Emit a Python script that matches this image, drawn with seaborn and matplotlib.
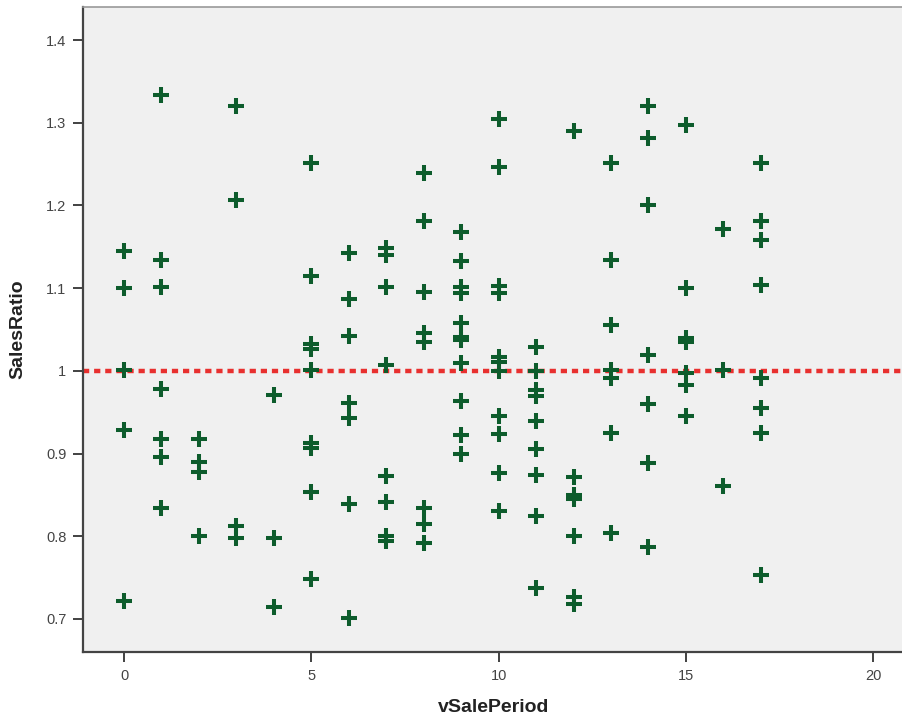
import numpy as np
import pandas as pd
import matplotlib
matplotlib.use("Agg")
import matplotlib.pyplot as plt
import seaborn as sns

# sales ratio values, one list per sale period
ratios_by_period = {
    0: [1.145, 1.100, 1.001, 0.929, 0.722],
    1: [1.334, 1.134, 1.101, 0.978, 0.917, 0.896, 0.834],
    2: [0.917, 0.890, 0.878, 0.800],
    3: [1.320, 1.207, 0.812, 0.798],
    4: [0.971, 0.798, 0.714],
    5: [1.251, 1.115, 1.033, 1.027, 1.001, 0.913, 0.907, 0.853, 0.748],
    6: [1.143, 1.087, 1.042, 0.961, 0.943, 0.839, 0.701],
    7: [1.148, 1.140, 1.101, 1.007, 0.873, 0.841, 0.800, 0.794],
    8: [1.239, 1.181, 1.095, 1.046, 1.035, 0.834, 0.815, 0.792],
    9: [1.168, 1.133, 1.102, 1.094, 1.058, 1.041, 1.037, 1.009, 0.964, 0.923, 0.900],
    10: [1.304, 1.247, 1.103, 1.094, 1.017, 1.011, 1.000, 0.945, 0.924, 0.877, 0.830],
    11: [1.029, 1.000, 0.977, 0.970, 0.939, 0.905, 0.874, 0.825, 0.738],
    12: [1.290, 0.872, 0.850, 0.845, 0.800, 0.726, 0.718],
    13: [1.251, 1.134, 1.056, 1.001, 0.991, 0.925, 0.804],
    14: [1.320, 1.282, 1.201, 1.019, 0.960, 0.888, 0.787],
    15: [1.297, 1.100, 1.040, 1.035, 0.997, 0.983, 0.946],
    16: [1.172, 1.001, 0.861],
    17: [1.251, 1.181, 1.158, 1.104, 0.991, 0.955, 0.925, 0.753],
}
reference_ratio = 1.0
x_ticks = [0, 5, 10, 15, 20]
y_ticks = [0.7, 0.8, 0.9, 1.0, 1.1, 1.2, 1.3, 1.4]
y_tick_labels = ["0.7", "0.8", "0.9", "1", "1.1", "1.2", "1.3", "1.4"]

rows = [(p, r) for p, vals in ratios_by_period.items() for r in vals]
df = pd.DataFrame(rows, columns=["vSalePeriod", "SalesRatio"])

sns.set_theme(style="white")
plt.rcParams["font.family"] = ["Liberation Sans", "DejaVu Sans"]

fig = plt.figure(figsize=(9.03, 7.23), dpi=100)
ax = fig.add_axes([83 / 903, 71 / 723, 822 / 903, 645 / 723])
ax.set_facecolor("#f0f0f0")

ax.axhline(reference_ratio, color="#e8302f", linewidth=3.2,
           linestyle=(0, (1.4, 1.1)), zorder=1)

sns.scatterplot(data=df, x="vSalePeriod", y="SalesRatio", ax=ax,
                marker="+", s=125, linewidth=2.9, color="#0d5c2c", zorder=2)

ax.set_xlim(-1.095, 20.85)
ax.set_ylim(0.660, 1.440)
ax.set_xticks(x_ticks)
ax.set_xticklabels([str(t) for t in x_ticks])
ax.set_yticks(y_ticks)
ax.set_yticklabels(y_tick_labels)

ax.tick_params(axis="both", direction="out", length=7, width=1.3,
               colors="#333333", labelsize=10.5, pad=5,
               bottom=True, left=True)
ax.tick_params(axis="both", labelcolor="#444444")

for side in ["left", "bottom"]:
    ax.spines[side].set_color("#444444")
    ax.spines[side].set_linewidth(1.6)
ax.spines["top"].set_color("#999999")
ax.spines["top"].set_linewidth(1.2)
ax.spines["right"].set_visible(False)

ax.set_xlabel("vSalePeriod", fontsize=14, fontweight="bold", color="#222222", labelpad=12)
ax.set_ylabel("SalesRatio", fontsize=14, fontweight="bold", color="#222222", labelpad=14)

fig.savefig("out.png", dpi=100)
